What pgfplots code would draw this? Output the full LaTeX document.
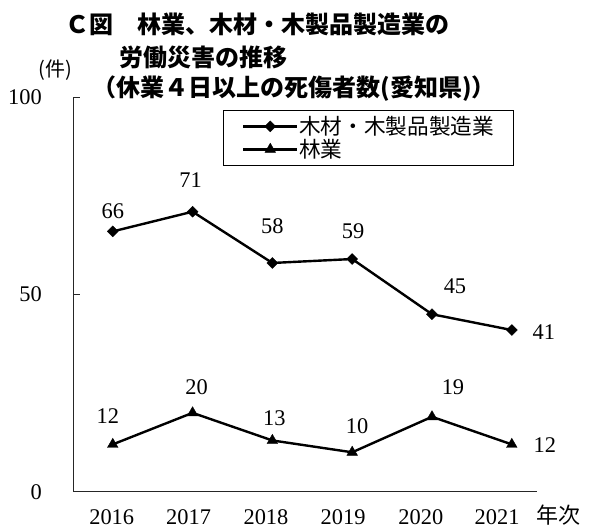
\documentclass[border=0pt]{standalone}
\usepackage{fontspec}
\setmainfont{Liberation Serif}
\newfontfamily\jp{Noto Sans CJK JP}
\usepackage{pgfplots}
\pgfplotsset{compat=1.18}
\usepackage{pgfplotstable}

\pgfplotstableread{
x y dx dy
0 66 0 20
1 71 -2 32
2 58 0 37
3 59 1 28
4 45 23 28
5 41 32 -2
}\woodtable

\pgfplotstableread{
x y dx dy
0 12 -5 28
1 20 4 26
2 13 2 22
3 10 5 26
4 19 21 30
5 12 33 -1
}\foresttable

\begin{document}
\begin{tikzpicture}
\path[use as bounding box] (-55pt,-28.7pt) rectangle (393.5pt,368.8pt);
\begin{axis}[
  scale only axis, width=348pt, height=295.8pt,
  xmin=-0.494, xmax=5.32, ymin=0, ymax=100,
  axis lines*=left,
  axis line style={line width=0.75pt, black!85},
  ytick={0,50,100}, ytick align=inside, major tick length=5pt,
  ytick style={line width=0.75pt, black!85},
  xtick={-0.013,0.95,1.92,2.886,3.86,4.816},
  xticklabels={2016,2017,2018,2019,2020,2021},
  xtick style={draw=none},
  tick label style={font=\fontsize{16.8}{18}\selectfont},
  /pgf/number format/assume math mode=true,
  yticklabel style={anchor=east, inner sep=0pt, xshift=-23.5pt},
  xticklabel style={anchor=center, inner sep=0pt, yshift=-19pt},
  legend image code/.code={
    \draw[mark repeat=2,mark phase=2,#1] plot coordinates {(0pt,0pt) (20.25pt,0pt) (40.5pt,0pt)};
  },
  legend style={at={(0.3226,0.968)}, anchor=north west, draw=black, line width=0.6pt,
    inner xsep=14pt, inner ysep=4pt, row sep=1pt,
    font=\jp\fontsize{16.25}{19}\selectfont, cells={anchor=west},
    nodes={inner sep=0.5pt}},
  nodes near coords={\pgfmathprintnumber{\pgfplotspointmeta}},
  point meta=y,
  visualization depends on={\thisrow{dx} \as \dx},
  visualization depends on={\thisrow{dy} \as \dy},
  every node near coord/.append style={anchor=center, inner sep=0pt,
    xshift={\dx*0.75pt}, yshift={\dy*0.75pt},
    font=\fontsize{16.8}{18}\selectfont, text=black},
]
\addplot[black, line width=1.8pt, mark=square*, mark size=2.9pt,
  mark options={solid, rotate=45, line width=0.3pt}] table[x=x,y=y]{\woodtable};
\addlegendentry{木材・木製品製造業}
\addplot[black, line width=1.8pt, mark=triangle*, mark size=4.6pt,
  mark options={solid, line width=0.3pt}] table[x=x,y=y]{\foresttable};
\addlegendentry{林業}
\end{axis}
\node[font=\jp\bfseries\fontsize{18}{20}\selectfont, inner sep=0pt, anchor=center] at (138.1pt,350.8pt) {Ｃ図　林業、木材・木製品製造業の};
\node[font=\jp\bfseries\fontsize{18}{20}\selectfont, inner sep=0pt, anchor=center] at (97.3pt,325.6pt) {労働災害の推移};
\node[font=\jp\bfseries\fontsize{18}{20}\selectfont, inner sep=0pt, anchor=center] at (165.5pt,302.4pt) {（休業４日以上の死傷者数(愛知県)）};
\node[font=\jp\fontsize{15}{18}\selectfont, inner sep=0pt, anchor=center] at (-13.7pt,316pt) {(件)};
\node[font=\jp\fontsize{16.5}{18}\selectfont, inner sep=0pt, anchor=center] at (363.5pt,-17.5pt) {年次};
\end{tikzpicture}
\end{document}
